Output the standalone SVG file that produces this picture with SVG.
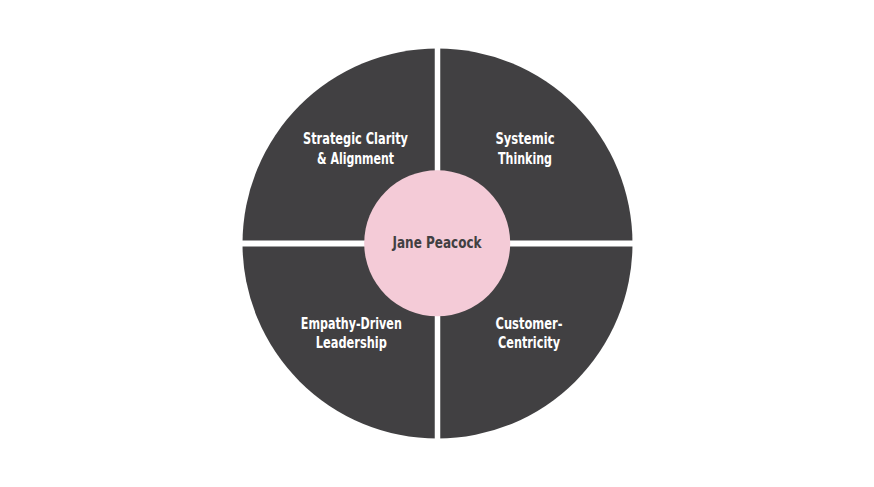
<svg xmlns="http://www.w3.org/2000/svg" width="874" height="487" viewBox="0 0 874 487">
<style>
.q{fill:#414042}
.lbl{font-family:"DejaVu Sans Condensed","DejaVu Sans","Liberation Sans",sans-serif;font-stretch:condensed;font-weight:bold;font-size:16.5px;fill:#ffffff;text-anchor:middle}
.ctr{font-family:"DejaVu Sans Condensed","DejaVu Sans","Liberation Sans",sans-serif;font-stretch:condensed;font-weight:bold;font-size:15px;fill:#414042;text-anchor:middle}
</style>
<rect width="874" height="487" fill="#ffffff"/>
<g id="wheel">
<circle class="q" cx="437.5" cy="243.5" r="195"/>
</g>
<g id="connectors">
<line x1="437.5" y1="40" x2="437.5" y2="447" stroke="#ffffff" stroke-width="5.5"/>
<line x1="235" y1="243.5" x2="640" y2="243.5" stroke="#ffffff" stroke-width="6"/>
</g>
<g id="q-strategic">
<text class="lbl" x="355.5" y="144" textLength="105" lengthAdjust="spacingAndGlyphs">Strategic Clarity</text>
<text class="lbl" x="355.5" y="164" textLength="77" lengthAdjust="spacingAndGlyphs">&amp; Alignment</text>
</g>
<g id="q-systemic">
<text class="lbl" x="525" y="144" textLength="59" lengthAdjust="spacingAndGlyphs">Systemic</text>
<text class="lbl" x="525" y="164" textLength="54" lengthAdjust="spacingAndGlyphs">Thinking</text>
</g>
<g id="q-empathy">
<text class="lbl" x="351.3" y="328.5" textLength="101" lengthAdjust="spacingAndGlyphs">Empathy-Driven</text>
<text class="lbl" x="351.3" y="347.5" textLength="71" lengthAdjust="spacingAndGlyphs">Leadership</text>
</g>
<g id="q-customer">
<text class="lbl" x="529" y="328.5" textLength="67" lengthAdjust="spacingAndGlyphs">Customer-</text>
<text class="lbl" x="529" y="347.5" textLength="62" lengthAdjust="spacingAndGlyphs">Centricity</text>
</g>
<g id="center">
<circle cx="437.2" cy="243.3" r="73" fill="#f4cbd7"/>
<text class="ctr" x="437" y="247.7" textLength="89" lengthAdjust="spacingAndGlyphs">Jane Peacock</text>
</g>
</svg>
